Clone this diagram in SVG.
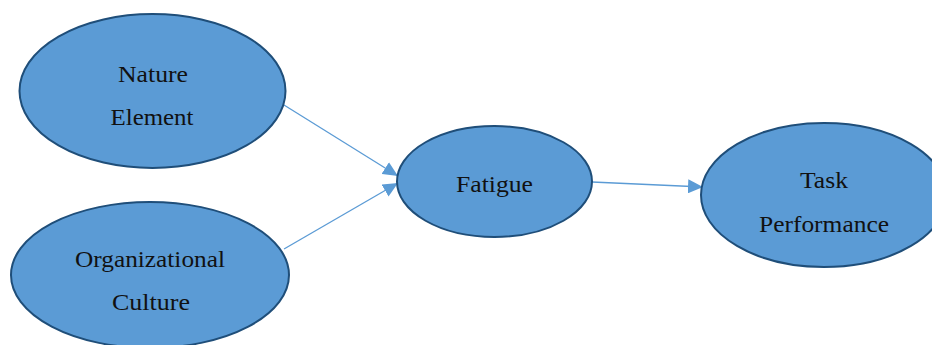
<svg xmlns="http://www.w3.org/2000/svg" width="932" height="345" viewBox="0 0 932 345">
  <style>
    .node { fill: #5b9bd5; stroke: #1f4e79; stroke-width: 2; }
    .label { font-family: "Liberation Serif", "Times New Roman", serif; font-size: 23px; fill: #111; text-anchor: middle; }
    .edge { stroke: #5b9bd5; stroke-width: 1.3; fill: none; marker-end: url(#arrow); }
  </style>
  <defs>
    <marker id="arrow" markerUnits="userSpaceOnUse" markerWidth="15" markerHeight="14" refX="15" refY="7" orient="auto">
      <path d="M0,0 L15,7 L0,14 Z" fill="#5b9bd5"/>
    </marker>
  </defs>
  <rect width="932" height="345" fill="#ffffff"/>

  <g id="connectors">
    <line class="edge" x1="284" y1="105" x2="398" y2="176"/>
    <line class="edge" x1="284" y1="249" x2="398" y2="183"/>
    <line class="edge" x1="592" y1="182" x2="703" y2="187"/>
  </g>

  <g id="nature-element">
    <ellipse class="node" cx="152.5" cy="91" rx="133" ry="77"/>
    <text class="label" x="153" y="82" textLength="70" lengthAdjust="spacingAndGlyphs">Nature</text>
    <text class="label" x="152" y="125" textLength="83" lengthAdjust="spacingAndGlyphs">Element</text>
  </g>

  <g id="organizational-culture">
    <ellipse class="node" cx="150" cy="275" rx="139" ry="73"/>
    <text class="label" x="150" y="267" textLength="150" lengthAdjust="spacingAndGlyphs">Organizational</text>
    <text class="label" x="151" y="310" textLength="78" lengthAdjust="spacingAndGlyphs">Culture</text>
  </g>

  <g id="fatigue">
    <ellipse class="node" cx="494.5" cy="181.5" rx="97.5" ry="55.5"/>
    <text class="label" x="494.5" y="192" textLength="77" lengthAdjust="spacingAndGlyphs">Fatigue</text>
  </g>

  <g id="task-performance">
    <ellipse class="node" cx="824" cy="195" rx="123" ry="72"/>
    <text class="label" x="824" y="188" textLength="48" lengthAdjust="spacingAndGlyphs">Task</text>
    <text class="label" x="824" y="232" textLength="130" lengthAdjust="spacingAndGlyphs">Performance</text>
  </g>
</svg>
